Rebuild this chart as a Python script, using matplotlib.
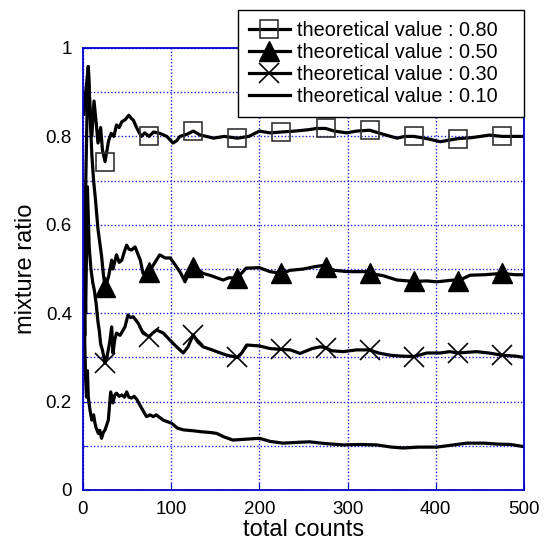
import numpy as np
import matplotlib.pyplot as plt
from matplotlib.ticker import MultipleLocator

# values (total counts, mixture ratio)
x80 = [1, 3, 6, 8, 10, 12.5, 15, 17, 20, 22, 25, 29, 32, 35, 38, 41, 44, 48, 52, 55, 57, 61, 66, 70, 75,
       80, 87, 95, 102, 106, 110, 118, 125, 133, 140, 148, 160, 175, 188, 200, 212, 225, 240, 255, 265,
       275, 285, 299, 310, 325, 340, 356, 365, 375, 390, 405, 425, 440, 461, 475, 490, 500]
y80 = [0.85, 0.90, 0.958, 0.86, 0.80, 0.88, 0.83, 0.785, 0.82, 0.77, 0.743, 0.79, 0.807, 0.80, 0.826,
       0.82, 0.833, 0.838, 0.848, 0.84, 0.837, 0.819, 0.80, 0.808, 0.80,
       0.81, 0.807, 0.80, 0.785, 0.79, 0.80, 0.805, 0.812, 0.803, 0.80, 0.796, 0.80, 0.796, 0.80, 0.812,
       0.808, 0.81, 0.812, 0.815, 0.818, 0.818, 0.812, 0.808, 0.812, 0.814, 0.805, 0.796, 0.80, 0.80,
       0.795, 0.788, 0.795, 0.797, 0.803, 0.80, 0.80, 0.80]

x50 = [1, 2, 3, 5, 6, 8, 10, 12, 14, 17, 19, 21, 23, 25, 27, 29, 32.5, 34, 38, 41, 44, 47, 49.5, 52, 55,
       59, 62, 65, 68, 72, 75, 80, 87, 93, 99, 106, 111, 115.6, 120, 125, 130, 136, 145, 159, 165, 175,
       185, 200, 212, 225, 235, 250, 262, 272, 275, 285, 300, 322, 325, 340, 356, 375, 390, 401, 420,
       425, 439, 455, 475, 490, 500]
y50 = [0.5, 0.35, 0.68, 0.90, 0.958, 0.85, 0.76, 0.70, 0.66, 0.59, 0.56, 0.53, 0.49, 0.46, 0.47, 0.483,
       0.52, 0.50, 0.532, 0.515, 0.52, 0.54, 0.554, 0.545, 0.543,
       0.55, 0.535, 0.52, 0.49, 0.49, 0.494, 0.51, 0.532, 0.525, 0.525, 0.505, 0.49, 0.471, 0.49, 0.505,
       0.50, 0.49, 0.485, 0.475, 0.48, 0.48, 0.502, 0.503, 0.494, 0.49, 0.497, 0.50, 0.505, 0.508, 0.505,
       0.497, 0.494, 0.494, 0.49, 0.485, 0.475, 0.472, 0.473, 0.471, 0.475,
       0.473, 0.486, 0.487, 0.49, 0.487, 0.487]

x30 = [1, 2, 3, 5, 7, 9, 11, 13, 15, 17, 18.5, 20, 22, 25, 27, 29, 30.6, 32.5, 34, 36, 38, 42, 45, 47.6,
       51, 54, 57, 62.7, 68, 75, 79, 83.5, 91, 98.6, 106, 113.7, 119, 125, 130, 136, 145, 151.6, 163,
       175, 180, 185.6, 200, 212, 225, 235, 246, 260, 269, 275, 282, 295, 310, 325, 335, 348, 360, 375,
       390, 405, 416, 425, 446, 460, 475, 490, 500]
y30 = [0.35, 0.5, 0.40, 0.686, 0.55, 0.50, 0.47, 0.45, 0.42, 0.38, 0.36, 0.33, 0.317, 0.287, 0.30, 0.32,
       0.339, 0.369, 0.31, 0.34, 0.355, 0.35, 0.36, 0.369,
       0.396, 0.39, 0.392, 0.377, 0.355, 0.347, 0.355, 0.362, 0.355, 0.339, 0.324, 0.31, 0.324, 0.351,
       0.335, 0.324, 0.318, 0.313, 0.305,
       0.30, 0.31, 0.328, 0.326, 0.32, 0.318, 0.317, 0.309, 0.32, 0.324, 0.322, 0.315, 0.313, 0.317,
       0.317, 0.31, 0.305, 0.303, 0.302,
       0.31, 0.31, 0.313, 0.31, 0.313, 0.31, 0.305, 0.303, 0.30]

x10 = [1, 2, 3, 4, 5, 6, 8, 10, 12, 13.6, 15, 17.4, 19, 21, 23, 25, 28.7, 31.4, 34, 36, 38, 41, 44, 47,
       49.5, 52, 55, 58, 61, 66.5, 72, 76, 79.6, 83, 91, 100.5, 107, 114, 125, 133, 145, 151.6, 160,
       170, 185, 200, 212, 227, 245, 257, 275, 295, 315, 333, 350, 363, 380, 401, 420, 435, 455, 469,
       485, 500]
y10 = [0.5, 0.33, 0.25, 0.21, 0.27, 0.21, 0.18, 0.158, 0.17, 0.151, 0.14, 0.128, 0.135, 0.117, 0.13,
       0.136, 0.158, 0.222, 0.197, 0.215, 0.219, 0.212, 0.215, 0.21,
       0.222, 0.21, 0.208, 0.212, 0.205, 0.185, 0.166, 0.17, 0.166, 0.17, 0.158, 0.151, 0.14, 0.136,
       0.134, 0.132, 0.13, 0.128, 0.12,
       0.113, 0.115, 0.117, 0.11, 0.106, 0.108, 0.109, 0.105, 0.102, 0.103, 0.102, 0.097, 0.095, 0.097,
       0.097, 0.102, 0.106, 0.106, 0.104,
       0.103, 0.098]

labels = ["theoretical value : 0.80", "theoretical value : 0.50",
          "theoretical value : 0.30", "theoretical value : 0.10"]
mark_x = [25, 75, 125, 175, 225, 275, 325, 375, 425, 475]
xticks = [0, 100, 200, 300, 400, 500]
yticks = [0, 0.2, 0.4, 0.6, 0.8, 1.0]
ytick_labels = ["0", "0.2", "0.4", "0.6", "0.8", "1"]

plt.rcParams['font.family'] = ['Liberation Sans', 'DejaVu Sans']
fig = plt.figure(figsize=(5.44, 5.45), dpi=100)
ax = fig.add_axes([83/544, 1-490/545, 441/544, 442/545])

def marks(xs):
    return list(np.where(np.isin(xs, mark_x))[0])

lw = 2.3
ax.plot(x80, y80, color='black', lw=lw, marker='s', markersize=13, markerfacecolor='none',
        markeredgecolor='#333333', markeredgewidth=1.2, markevery=marks(x80), label=labels[0])
ax.plot(x50, y50, color='black', lw=lw, marker='^', markersize=14, markerfacecolor='black',
        markeredgecolor='black', markevery=marks(x50), label=labels[1])
ax.plot(x30, y30, color='black', lw=lw, marker='x', markersize=14, markeredgecolor='black',
        markeredgewidth=1.2, markevery=marks(x30), label=labels[2])
ax.plot(x10, y10, color='black', lw=lw, label=labels[3])

ax.set_xlim(0, 500)
ax.set_ylim(0, 1)
ax.set_xticks(xticks)
ax.set_yticks(yticks)
ax.set_yticklabels(ytick_labels)
ax.yaxis.set_minor_locator(MultipleLocator(0.1))
ax.grid(True, which='both', color='#2222dd', linestyle=(0, (1, 1.5)), linewidth=1)
ax.tick_params(which='both', direction='in', color='#0000cc', labelsize=13.5, pad=8)
ax.tick_params(which='major', length=5)
ax.tick_params(which='minor', length=3)
for s in ax.spines.values():
    s.set_color('#0000cc')
    s.set_linewidth(1.3)

ax.set_xlabel("total counts", fontsize=17, labelpad=1)
ax.set_ylabel("mixture ratio", fontsize=17, labelpad=6)

leg = fig.legend(loc='upper left', bbox_to_anchor=(238/544, 1-118/545, 286/544, 108/545),
                 mode='expand', borderaxespad=0, fontsize=14.3, frameon=True, fancybox=False,
                 edgecolor='black', handlelength=2.05, handletextpad=0.35, labelspacing=0.15,
                 borderpad=0.55)
leg.get_frame().set_linewidth(1.0)
leg.get_frame().set_alpha(1)

fig.savefig("out.png", dpi=100)
